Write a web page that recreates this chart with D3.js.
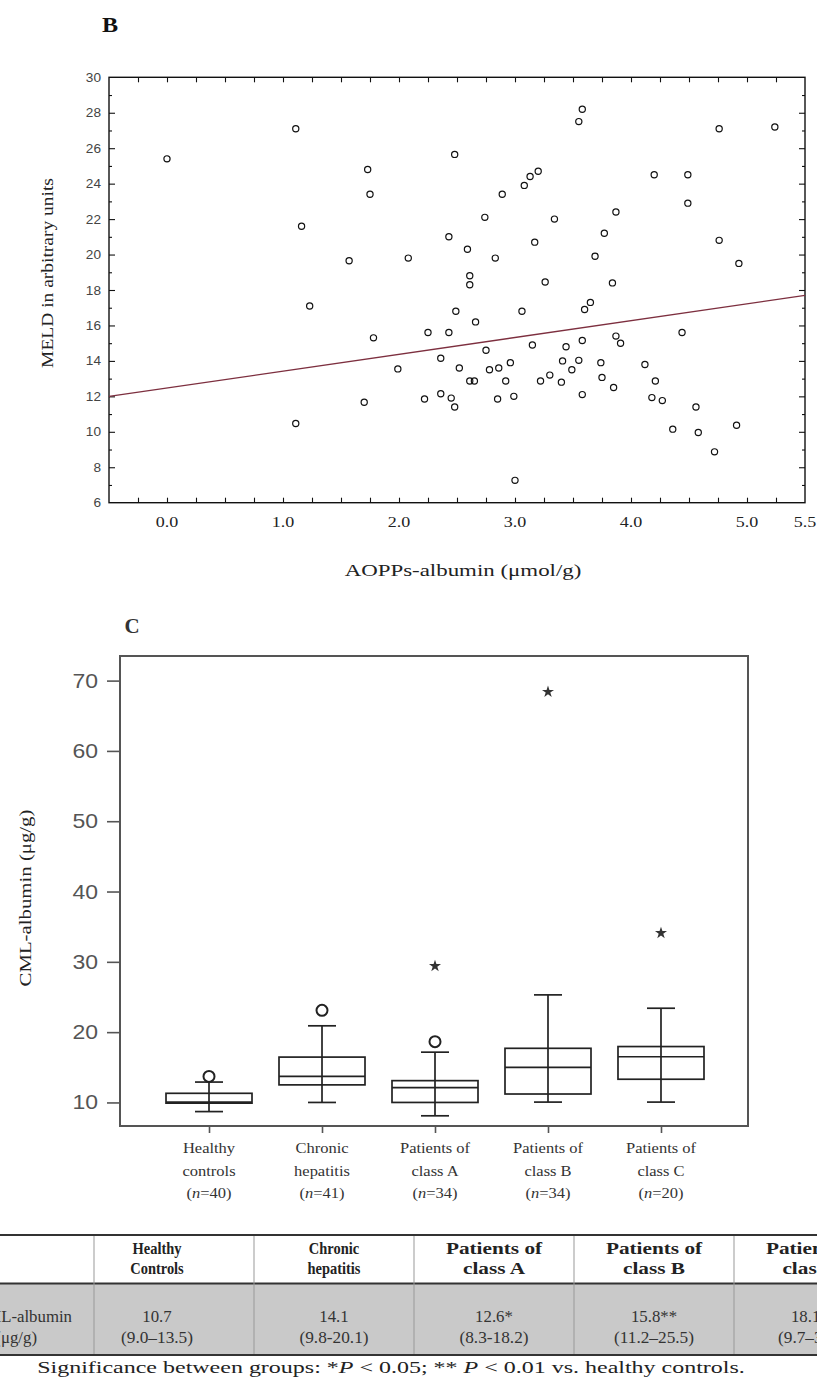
<!DOCTYPE html>
<html>
<head>
<meta charset="utf-8">
<script src="https://cdnjs.cloudflare.com/ajax/libs/d3/7.8.5/d3.min.js"></script>
<style>
  body { margin: 0; background: #fff; }
  svg { display: block; }
</style>
</head>
<body>
<svg id="fig" width="817" height="1379"></svg>
<script>
// ---- panel B : AOPPs-albumin vs MELD ----
var aopps = [0.00, 1.11, 2.48, 1.73, 1.75, 1.16, 1.23, 1.57, 2.08, 2.43, 2.59, 2.74, 2.61, 2.61, 2.49, 2.66,
  2.83, 2.89, 3.08, 3.13, 3.20, 3.06, 3.17, 3.26, 3.34, 3.55, 3.58, 3.69, 3.77, 3.87, 3.84, 3.60, 3.65,
  4.20, 4.49, 4.49, 4.76, 4.76, 4.93, 5.24,
  1.78, 2.25, 2.43, 3.15, 3.44, 3.58, 3.87, 3.91, 4.44, 2.75, 2.36, 1.99, 2.52, 2.78, 2.86, 2.96,
  2.61, 2.65, 2.92, 3.22, 3.30, 3.40, 3.41, 3.49, 3.55, 3.74, 3.75, 3.85, 4.12, 4.21, 3.58, 2.99,
  2.85, 2.22, 2.36, 2.45, 2.48, 1.70, 1.11, 4.18, 4.27, 4.56, 4.36, 4.58, 4.72, 4.91, 3.00];
var meld = [25.4, 27.1, 25.65, 24.8, 23.4, 21.6, 17.1, 19.65, 19.8, 21.0, 20.3, 22.1, 18.8, 18.3, 16.8, 16.2,
  19.8, 23.4, 23.9, 24.4, 24.7, 16.8, 20.7, 18.45, 22.0, 27.5, 28.2, 19.9, 21.2, 22.4, 18.4, 16.9, 17.3,
  24.5, 24.5, 22.9, 27.1, 20.8, 19.5, 27.2,
  15.3, 15.6, 15.6, 14.9, 14.8, 15.15, 15.4, 15.0, 15.6, 14.6, 14.15, 13.55, 13.6, 13.5, 13.6, 13.9,
  12.87, 12.87, 12.87, 12.87, 13.2, 12.8, 14.0, 13.5, 14.03, 13.9, 13.07, 12.5, 13.8, 12.87, 12.1, 12.0,
  11.85, 11.85, 12.15, 11.9, 11.4, 11.67, 10.47, 11.93, 11.76, 11.4, 10.15, 9.96, 8.87, 10.37, 7.26];
var fitIntercept = 12.47, fitSlope = 0.95;
var aoppsTicks = [0, 1, 2, 3, 4, 5, 5.5];
var meldTicks = [6, 8, 10, 12, 14, 16, 18, 20, 22, 24, 26, 28, 30];

// ---- panel C : CML-albumin box plot ----
var groups = ["Healthy controls", "Chronic hepatitis", "Patients of class A", "Patients of class B", "Patients of class C"];
var groupLines = [["Healthy", "controls", "40"], ["Chronic", "hepatitis", "41"], ["Patients of", "class A", "34"],
  ["Patients of", "class B", "34"], ["Patients of", "class C", "20"]];
var whiskerLow = [8.7, 10.0, 8.1, 10.05, 10.05];
var q1 = [9.9, 12.5, 10.0, 11.2, 13.3];
var median = [10.05, 13.7, 12.1, 15.0, 16.5];
var q3 = [11.3, 16.45, 13.1, 17.7, 17.95];
var whiskerHigh = [12.9, 20.9, 17.15, 25.3, 23.4];
var outliers = [[13.7], [23.1], [18.65], [], []];
var extremes = [[], [], [29.4], [68.4], [34.1]];
var cmlTicks = [10, 20, 30, 40, 50, 60, 70];

// ---- table ----
var tableHeads = [["Healthy", "Controls"], ["Chronic", "hepatitis"], ["Patients of", "class A"], ["Patients of", "class B"], ["Patients of", "class C"]];
var tableMedian = ["10.7", "14.1", "12.6*", "15.8**", "18.1**"];
var tableRange = ["(9.0\u201313.5)", "(9.8-20.1)", "(8.3-18.2)", "(11.2\u201325.5)", "(9.7\u201334.1)"];

var SERIF = "'Liberation Serif', 'Times New Roman', serif",
    SANS = "'Liberation Sans', Arial, sans-serif";

var svg = d3.select("#fig");
svg.append("rect").attr("width", 817).attr("height", 1379).attr("fill", "#fff");

// text helper: parts = string or [[text, italic], ...]
function label(parent, x, y, parts, o) {
  o = o || {};
  var t = parent.append("text")
    .attr("text-anchor", o.anchor || "middle")
    .attr("dy", "0.35em")
    .style("font-family", o.family || SERIF)
    .style("font-size", (o.size || 15) + "px")
    .style("font-weight", o.weight || "normal")
    .attr("fill", o.fill || "#222");
  if (typeof parts === "string") t.text(parts);
  else parts.forEach(function (p) {
    t.append("tspan").text(p[0]).style("font-style", p[1] ? "italic" : null);
  });
  var sx = o.sx || 1;
  if (o.width) sx = o.width / t.node().getComputedTextLength();
  t.attr("transform", "translate(" + x + "," + y + ")" + (o.rot ? " rotate(" + o.rot + ")" : "") + " scale(" + sx + ",1)");
  return t;
}

function noDomain(g) { g.select(".domain").remove(); }

// ================= panel B =================
var gB = svg.append("g");
var x = d3.scaleLinear().domain([-0.5, 5.5]).range([109, 805]);
var y = d3.scaleLinear().domain([6, 30]).range([502.7, 77.3]);

label(gB, 110, 25, "B", {size: 21, weight: "bold", sx: 1.15, fill: "#111"});

var minorX = d3.range(-0.25, 5.26, 0.25);
var evenY = meldTicks.slice(1, -1);
var oddY = d3.range(7, 30, 2);

gB.append("g").attr("transform", "translate(0," + y(6) + ")")
  .call(d3.axisBottom(x).tickValues(minorX).tickSize(-5).tickFormat("")).call(noDomain);
gB.append("g").attr("transform", "translate(0," + y(30) + ")")
  .call(d3.axisTop(x).tickValues(minorX).tickSize(-5).tickFormat("")).call(noDomain);
gB.append("g").attr("transform", "translate(" + x(-0.5) + ",0)")
  .call(d3.axisLeft(y).tickValues(evenY).tickSize(-6).tickFormat("")).call(noDomain);
gB.append("g").attr("transform", "translate(" + x(-0.5) + ",0)")
  .call(d3.axisLeft(y).tickValues(oddY).tickSize(-3).tickFormat("")).call(noDomain);
gB.append("g").attr("transform", "translate(" + x(5.5) + ",0)")
  .call(d3.axisRight(y).tickValues(evenY).tickSize(-6).tickFormat("")).call(noDomain);
gB.append("g").attr("transform", "translate(" + x(5.5) + ",0)")
  .call(d3.axisRight(y).tickValues(oddY).tickSize(-3).tickFormat("")).call(noDomain);
gB.selectAll(".tick line").attr("stroke", "#111").attr("stroke-width", 1.1);

gB.append("rect")
  .attr("x", x(-0.5)).attr("y", y(30))
  .attr("width", x(5.5) - x(-0.5)).attr("height", y(6) - y(30))
  .attr("fill", "none").attr("stroke", "#111").attr("stroke-width", 1.4);

// regression line
var fitLine = d3.line().x(function (d) { return x(d); }).y(function (d) { return y(fitIntercept + fitSlope * d); });
gB.append("path").datum(x.domain()).attr("d", fitLine)
  .attr("fill", "none").attr("stroke", "#7d2f3f").attr("stroke-width", 1.3);

gB.selectAll("circle.pt").data(d3.zip(aopps, meld)).enter().append("circle")
  .attr("class", "pt")
  .attr("cx", function (d) { return x(d[0]); })
  .attr("cy", function (d) { return y(d[1]); })
  .attr("r", 3.1)
  .attr("fill", "none").attr("stroke", "#111").attr("stroke-width", 1.2);

meldTicks.forEach(function (v) {
  label(gB, 101, y(v), String(v), {family: SANS, size: 13, anchor: "end", fill: "#444", sx: 1.05});
});
aoppsTicks.forEach(function (v) {
  label(gB, x(v), 522, d3.format(".1f")(v), {size: 15, sx: 1.2, fill: "#222"});
});
label(gB, 463, 570, "AOPPs-albumin (\u03bcmol/g)", {size: 17, width: 237, fill: "#222"});
label(gB, 47, 273, "MELD in arbitrary units", {size: 17, width: 190, rot: -90, fill: "#222"});

// ================= panel C =================
var gC = svg.append("g");
var xb = d3.scalePoint().domain(groups).range([122, 748]).padding(0.77);
var yb = d3.scaleLinear().domain([6.65, 73.5]).range([1126, 656]);
var boxW = 86, capW = 28;

label(gC, 132, 626, "C", {size: 20, weight: "bold", sx: 1.05, fill: "#333"});

gC.append("g").attr("transform", "translate(120,0)")
  .call(d3.axisLeft(yb).tickValues(cmlTicks).tickSize(13).tickFormat("")).call(noDomain);
gC.append("g").attr("transform", "translate(0,1126)")
  .call(d3.axisBottom(xb).tickSize(7).tickFormat("")).call(noDomain);
gC.selectAll(".tick line").attr("stroke", "#555").attr("stroke-width", 1.6);

gC.append("rect").attr("x", 120).attr("y", 656).attr("width", 628).attr("height", 470)
  .attr("fill", "none").attr("stroke", "#555").attr("stroke-width", 2);

cmlTicks.forEach(function (v) {
  label(gC, 98, yb(v), String(v), {family: SANS, size: 20, anchor: "end", fill: "#555", sx: 1.15});
});
label(gC, 25, 898, "CML-albumin (\u03bcg/g)", {size: 17, width: 177, rot: -90, fill: "#222"});

var boxes = gC.selectAll("g.box").data(groups).enter().append("g").attr("class", "box");
boxes.each(function (g, i) {
  var b = d3.select(this), cx = xb(g);
  var ln = function (x1, y1, x2, y2) {
    b.append("line").attr("x1", x1).attr("y1", y1).attr("x2", x2).attr("y2", y2)
      .attr("stroke", "#222").attr("stroke-width", 1.7);
  };
  ln(cx, yb(whiskerLow[i]), cx, yb(whiskerHigh[i]));
  ln(cx - capW / 2, yb(whiskerLow[i]), cx + capW / 2, yb(whiskerLow[i]));
  ln(cx - capW / 2, yb(whiskerHigh[i]), cx + capW / 2, yb(whiskerHigh[i]));
  b.append("rect").attr("x", cx - boxW / 2).attr("y", yb(q3[i]))
    .attr("width", boxW).attr("height", yb(q1[i]) - yb(q3[i]))
    .attr("fill", "none").attr("stroke", "#222").attr("stroke-width", 1.7);
  ln(cx - boxW / 2, yb(median[i]), cx + boxW / 2, yb(median[i]));
  outliers[i].forEach(function (v) {
    b.append("circle").attr("cx", cx).attr("cy", yb(v)).attr("r", 5.5)
      .attr("fill", "none").attr("stroke", "#222").attr("stroke-width", 2);
  });
  extremes[i].forEach(function (v) {
    b.append("path").attr("d", d3.symbol(d3.symbolStar, 45)())
      .attr("transform", "translate(" + cx + "," + yb(v) + ")").attr("fill", "#333");
  });
  var ls = groupLines[i];
  label(b, cx, 1148, ls[0], {size: 15, sx: 1.1, fill: "#333"});
  label(b, cx, 1171, ls[1], {size: 15, sx: 1.1, fill: "#333"});
  label(b, cx, 1193, [["(", false], ["n", true], ["=" + ls[2] + ")", false]], {size: 15, sx: 1.1, fill: "#333"});
});

// ================= table =================
var gT = svg.append("g");
var xt = d3.scaleBand().domain(groups).range([94, 894]);
gT.append("rect").attr("x", 0).attr("y", 1284).attr("width", 817).attr("height", 70).attr("fill", "#c9c9c9");
[1235, 1283.5, 1355].forEach(function (ry) {
  gT.append("line").attr("x1", 0).attr("x2", 817).attr("y1", ry).attr("y2", ry)
    .attr("stroke", "#333").attr("stroke-width", 2);
});
groups.forEach(function (g, i) {
  var left = xt(g), cx = left + xt.bandwidth() / 2 - (i === 0 ? 17 : 0);
  gT.append("line").attr("x1", left).attr("x2", left).attr("y1", 1236).attr("y2", 1354)
    .attr("stroke", "#999").attr("stroke-width", 1);
  var wide = i >= 2;
  label(gT, cx, 1248, tableHeads[i][0], {size: 17, weight: "bold", sx: wide ? 1.25 : 0.85, fill: "#222"});
  label(gT, cx, 1268, tableHeads[i][1], {size: 17, weight: "bold", sx: wide ? 1.25 : 0.85, fill: "#222"});
  label(gT, cx, 1316, tableMedian[i], {size: 16, sx: 1.05, fill: "#333"});
  label(gT, cx, 1337, tableRange[i], {size: 16, sx: 1.08, fill: "#333"});
});
label(gT, 72, 1316, "CML-albumin", {size: 16, anchor: "end", sx: 1.05, fill: "#333"});
label(gT, 37, 1337, "(\u03bcg/g)", {size: 16, anchor: "end", sx: 1.05, fill: "#333"});

label(gT, 391, 1367, [["Significance between groups: *", false], ["P", true], [" < 0.05; ** ", false],
  ["P", true], [" <  0.01 vs. healthy controls.", false]], {size: 17, width: 708, fill: "#222"});
</script>
</body>
</html>
